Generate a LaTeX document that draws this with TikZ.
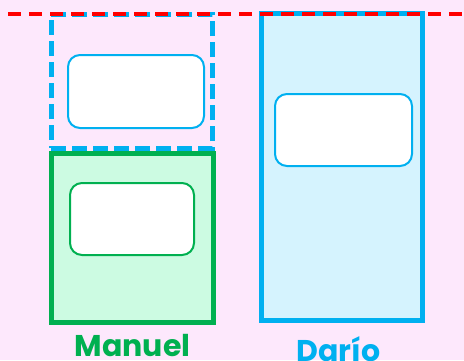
\documentclass[tikz,border=0pt]{standalone}
\usepackage{fontspec}
\setmainfont{Poppins}
\definecolor{bgpink}{HTML}{FDE8FC}
\definecolor{mygreen}{HTML}{00B050}
\definecolor{myblue}{HTML}{00B0F0}
\definecolor{greenfill}{HTML}{CCFBE2}
\definecolor{bluefill}{HTML}{D5F3FE}
\definecolor{myred}{HTML}{FF0000}
\tikzset{
  bigbox/.style={line width=5pt, inner sep=0pt, anchor=center},
  slot/.style={line width=2pt, fill=white, rounded corners=12pt, inner sep=0pt, anchor=center},
  namelabel/.style={anchor=base, inner sep=0pt, font=\fontsize{30}{30}\selectfont\bfseries},
}
\begin{document}
\begin{tikzpicture}[x=1pt,y=-1pt]
\useasboundingbox[fill=bgpink] (0,0) rectangle (464,360);
% Manuel stack
\node[bigbox, draw=myblue, dash pattern=on 15pt off 6pt, minimum width=161pt, minimum height=134pt] (dashbox) at (131.5,81) {};
\node[slot, draw=myblue, minimum width=136pt, minimum height=73pt] (dashslot) at (136,91.5) {};
\node[bigbox, draw=mygreen, fill=greenfill, minimum width=162pt, minimum height=169pt] (manbox) at (132,237.5) {};
\node[slot, draw=mygreen, minimum width=124pt, minimum height=72pt] (manslot) at (132,219) {};
% Dario
\node[bigbox, draw=myblue, fill=bluefill, minimum width=161.5pt, minimum height=306.5pt] (darbox) at (342,167) {};
\node[slot, draw=myblue, minimum width=137pt, minimum height=72pt] (darslot) at (343.5,130) {};
% labels
\node[namelabel, text=mygreen] (manlabel) at (132.5,356) {Manuel};
\node[namelabel, text=myblue] (darlabel) at (338.5,361) {Darío};
% red dashed line
\coordinate (redL) at (8,14);
\coordinate (redR) at (464,14);
\draw[myred, line width=4pt, dash pattern=on 13pt off 8pt] (redL) -- (redR);
\end{tikzpicture}
\end{document}
